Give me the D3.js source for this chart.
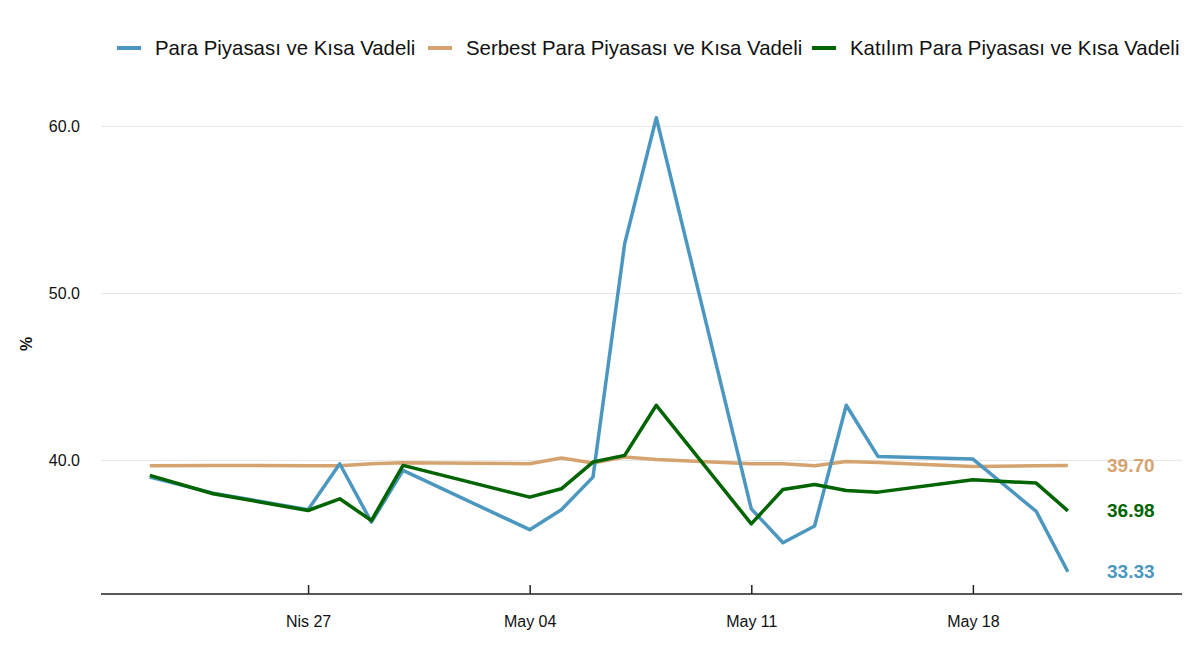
<!DOCTYPE html>
<html>
<head>
<meta charset="utf-8">
<script src="https://cdn.jsdelivr.net/npm/d3@7"></script>
<style>
  body { margin: 0; background: #fff; }
  text { font-family: "Liberation Sans", Arial, sans-serif; }
</style>
</head>
<body>
<div id="container"></div>
<script>
// data we work with
let dates = ["2020-04-22", "2020-04-24", "2020-04-27", "2020-04-28", "2020-04-29", "2020-04-30",
  "2020-05-04", "2020-05-05", "2020-05-06", "2020-05-07", "2020-05-08",
  "2020-05-11", "2020-05-12", "2020-05-13", "2020-05-14", "2020-05-15",
  "2020-05-18", "2020-05-20", "2020-05-21"];

let seriesNames = ["Para Piyasası ve Kısa Vadeli", "Serbest Para Piyasası ve Kısa Vadeli", "Katılım Para Piyasası ve Kısa Vadeli"];

let paraValues = [39.0, 38.04, 37.05, 39.8, 36.3, 39.4, 35.85, 37.05, 39.0, 52.97, 60.52,
  37.1, 35.07, 36.07, 43.3, 40.24, 40.08, 36.95, 33.33];
let serbestValues = [39.68, 39.7, 39.68, 39.68, 39.8, 39.86, 39.8, 40.14, 39.84, 40.2, 40.06,
  39.8, 39.8, 39.68, 39.94, 39.88, 39.64, 39.68, 39.70];
let katilimValues = [39.1, 38.0, 37.0, 37.7, 36.4, 39.7, 37.8, 38.3, 39.9, 40.3, 43.3,
  36.2, 38.26, 38.56, 38.2, 38.1, 38.84, 38.64, 36.98];

let yTicks = [40, 50, 60];
let xTicks = ["2020-04-27", "2020-05-04", "2020-05-11", "2020-05-18"];

let colors = ["#4b97bf", "#d5a36f", "#006400"];

let w = 1200;
let h = 667;
let plotLeft = 101, plotRight = 1182, plotTop = 93, plotBottom = 594;

let parse = d3.timeParse("%Y-%m-%d");
let tr = d3.timeFormatLocale({
  dateTime: "%a %e %b %X %Y", date: "%d/%m/%Y", time: "%H:%M:%S",
  periods: ["AM", "PM"],
  days: ["Pazar", "Pazartesi", "Salı", "Çarşamba", "Perşembe", "Cuma", "Cumartesi"],
  shortDays: ["Paz", "Pzt", "Sal", "Çar", "Per", "Cum", "Cmt"],
  months: ["Ocak", "Şubat", "Mart", "Nisan", "Mayıs", "Haziran", "Temmuz", "Ağustos", "Eylül", "Ekim", "Kasım", "Aralık"],
  shortMonths: ["Oca", "Şub", "Mar", "Nis", "May", "Haz", "Tem", "Ağu", "Eyl", "Eki", "Kas", "Ara"]
});

let series = [paraValues, serbestValues, katilimValues].map(function(vals, i) {
  return {
    name: seriesNames[i],
    color: colors[i],
    points: vals.map(function(v, j) { return { date: parse(dates[j]), value: v }; })
  };
});

let viz = d3.select("#container")
  .append("svg")
    .attr("width", w)
    .attr("height", h);

let xScale = d3.scaleTime()
  .domain([parse("2020-04-17"), parse("2020-05-25")])
  .range([-8.5, 1194.5]);
let yScale = d3.scaleLinear()
  .domain([32, 62])
  .range([plotBottom, plotTop]);

// gridlines
viz.append("g")
  .selectAll("line")
  .data(yTicks)
  .enter()
  .append("line")
    .attr("x1", plotLeft)
    .attr("x2", plotRight)
    .attr("y1", function(d) { return yScale(d); })
    .attr("y2", function(d) { return yScale(d); })
    .attr("stroke", "#e6e6e6")
    .attr("stroke-width", 1);

// y labels
viz.append("g")
  .selectAll("text")
  .data(yTicks)
  .enter()
  .append("text")
    .attr("x", 80)
    .attr("y", function(d) { return yScale(d); })
    .attr("dy", "0.35em")
    .attr("text-anchor", "end")
    .attr("font-size", 16)
    .attr("fill", "#111")
    .text(function(d) { return d3.format(".1f")(d); });

viz.append("text")
  .attr("transform", "translate(32,344) rotate(-90)")
  .attr("text-anchor", "middle")
  .attr("font-size", 16)
  .attr("font-weight", "bold")
  .attr("fill", "#111")
  .text("%");

// x axis
let xAxis = d3.axisBottom(xScale)
  .tickValues(xTicks.map(parse))
  .tickFormat(tr.format("%b %d"))
  .tickSizeInner(-9)
  .tickSizeOuter(0)
  .tickPadding(22);
let xAxisGroup = viz.append("g").attr("transform", "translate(0," + plotBottom + ")");
xAxisGroup.call(xAxis);
xAxisGroup.select(".domain").remove();
xAxisGroup.append("line")
  .attr("x1", plotLeft).attr("x2", plotRight)
  .attr("stroke", "#222").attr("stroke-width", 1.5);
xAxisGroup.selectAll(".tick line").attr("stroke", "#222").attr("stroke-width", 1.5);
xAxisGroup.selectAll("text")
  .attr("font-size", 16)
  .attr("font-family", "Liberation Sans, Arial, sans-serif")
  .attr("fill", "#111");

// lines
let lineMaker = d3.line()
  .x(function(d) { return xScale(d.date); })
  .y(function(d) { return yScale(d.value); });

viz.append("g")
  .selectAll("path")
  .data([series[1], series[0], series[2]])
  .enter()
  .append("path")
    .attr("d", function(d) { return lineMaker(d.points); })
    .attr("fill", "none")
    .attr("stroke", function(d) { return d.color; })
    .attr("stroke-width", 3.5)
    .attr("stroke-linejoin", "round");

// end labels
viz.append("g")
  .selectAll("text")
  .data(series)
  .enter()
  .append("text")
    .attr("x", 1107)
    .attr("y", function(d) { return yScale(d.points[d.points.length - 1].value); })
    .attr("dy", "0.35em")
    .attr("font-size", 19)
    .attr("font-weight", "bold")
    .attr("fill", function(d) { return d.color; })
    .text(function(d) { return d3.format(".2f")(d.points[d.points.length - 1].value); });

// legend
let legendX = [117, 428, 812];
let legend = viz.append("g")
  .selectAll("g")
  .data(series)
  .enter()
  .append("g")
    .attr("transform", function(d, i) { return "translate(" + legendX[i] + ",48)"; });
legend.append("line")
  .attr("x1", 0).attr("x2", 24)
  .attr("stroke", function(d) { return d.color; })
  .attr("stroke-width", 4);
legend.append("text")
  .attr("x", 38)
  .attr("dy", "0.35em")
  .attr("font-size", 20.4)
  .attr("fill", "#111")
  .text(function(d) { return d.name; });
</script>
</body>
</html>
